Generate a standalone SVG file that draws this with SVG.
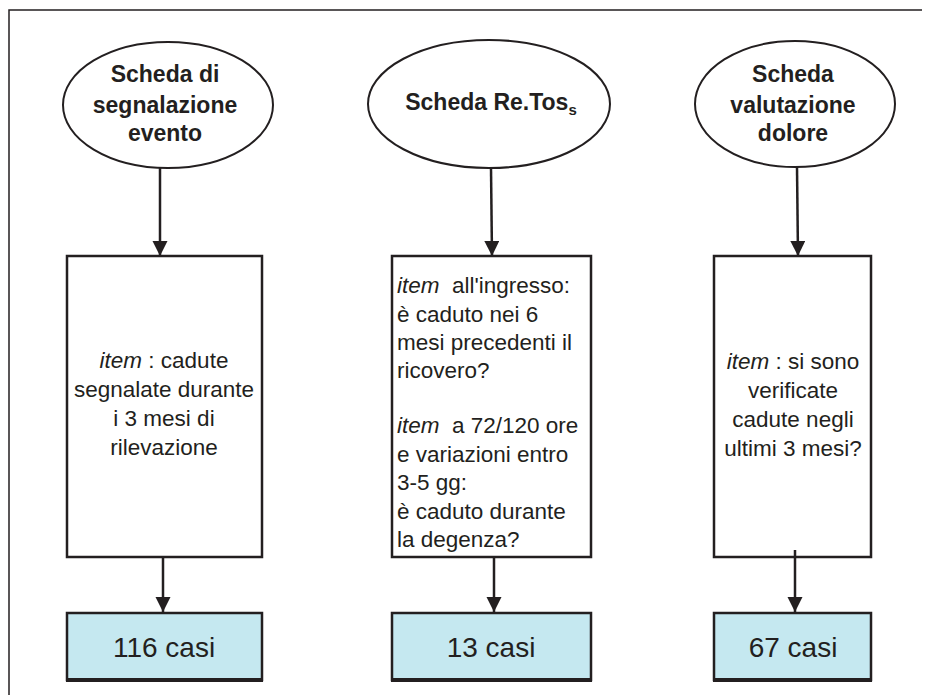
<svg xmlns="http://www.w3.org/2000/svg" width="926" height="695" viewBox="0 0 926 695">
<defs>
<marker id="ah" markerUnits="userSpaceOnUse" markerWidth="16" markerHeight="16" refX="15" refY="7.5" orient="auto">
<path d="M0,0 L15,7.5 L0,15 Z" fill="#231f20"/>
</marker>
<style>
.ell{fill:#fff;stroke:#231f20;stroke-width:2}
.box{fill:#fff;stroke:#231f20;stroke-width:2.5}
.res{fill:#c5e8f0;stroke:#231f20;stroke-width:2.5}
.sh{stroke:#231f20;stroke-width:4}
.ht{font-family:"Liberation Sans",Arial,sans-serif;font-weight:bold;font-size:23px;fill:#231f20;text-anchor:middle}
.bt{font-family:"Liberation Sans",Arial,sans-serif;font-size:22.5px;fill:#231f20}
.c{text-anchor:middle}
.rt{font-family:"Liberation Sans",Arial,sans-serif;font-size:28px;fill:#231f20;text-anchor:middle}
.con{stroke:#231f20;stroke-width:2.5;fill:none;marker-end:url(#ah)}
</style>
</defs>
<rect width="926" height="695" fill="#fff"/>
<path d="M9,695 L9,10 L922,10" fill="none" stroke="#231f20" stroke-width="1.5"/>

<g id="n1">
<ellipse class="ell" cx="168" cy="105" rx="105" ry="63"/>
<text class="ht" x="165" y="82">Scheda di</text>
<text class="ht" x="165" y="113">segnalazione</text>
<text class="ht" x="165" y="141">evento</text>
</g>
<g id="n2">
<ellipse class="ell" cx="489" cy="104" rx="121" ry="64"/>
<text class="ht" x="491" y="110">Scheda Re.Tos<tspan font-size="15" dy="5">s</tspan></text>
</g>
<g id="n3">
<ellipse class="ell" cx="795" cy="104" rx="100" ry="63"/>
<text class="ht" x="793" y="82">Scheda</text>
<text class="ht" x="793" y="113">valutazione</text>
<text class="ht" x="793" y="141">dolore</text>
</g>

<g id="b1">
<rect class="box" x="67" y="256" width="195" height="301"/>
<text class="bt c" x="164" y="368"><tspan font-style="italic">item</tspan> : cadute</text>
<text class="bt c" x="164" y="397">segnalate durante</text>
<text class="bt c" x="164" y="426">i 3 mesi di</text>
<text class="bt c" x="164" y="455">rilevazione</text>
</g>
<g id="b2">
<rect class="box" x="392" y="256" width="199" height="301"/>
<text class="bt" x="397" y="293"><tspan font-style="italic">item</tspan>&#160; all'ingresso:</text>
<text class="bt" x="397" y="322">è caduto nei 6</text>
<text class="bt" x="397" y="350">mesi precedenti il</text>
<text class="bt" x="397" y="378">ricovero?</text>
<text class="bt" x="397" y="433"><tspan font-style="italic">item</tspan>&#160; a 72/120 ore</text>
<text class="bt" x="397" y="462">e variazioni entro</text>
<text class="bt" x="397" y="490">3-5 gg:</text>
<text class="bt" x="397" y="519">è caduto durante</text>
<text class="bt" x="397" y="547">la degenza?</text>
</g>
<g id="b3">
<rect class="box" x="714" y="256" width="157" height="301"/>
<text class="bt c" x="793" y="369"><tspan font-style="italic">item</tspan> : si sono</text>
<text class="bt c" x="793" y="398">verificate</text>
<text class="bt c" x="793" y="427">cadute negli</text>
<text class="bt c" x="793" y="456">ultimi 3 mesi?</text>
</g>

<g id="r1">
<rect class="res" x="67" y="613" width="195" height="67"/>
<line class="sh" x1="66" y1="680" x2="263" y2="680"/>
<text class="rt" x="164" y="657">116 casi</text>
</g>
<g id="r2">
<rect class="res" x="392" y="613" width="199" height="67"/>
<line class="sh" x1="391" y1="680" x2="592" y2="680"/>
<text class="rt" x="491" y="657">13 casi</text>
</g>
<g id="r3">
<rect class="res" x="714" y="613" width="157" height="67"/>
<line class="sh" x1="713" y1="680" x2="872" y2="680"/>
<text class="rt" x="793" y="657">67 casi</text>
</g>

<g id="connectors">
<line class="con" x1="160" y1="168" x2="160" y2="256"/>
<line class="con" x1="491" y1="168" x2="492" y2="256"/>
<line class="con" x1="797" y1="167" x2="798" y2="256"/>
<line class="con" x1="163" y1="557" x2="163" y2="612"/>
<line class="con" x1="494" y1="557" x2="494" y2="612"/>
<line class="con" x1="795" y1="550" x2="795" y2="612"/>
</g>
</svg>
